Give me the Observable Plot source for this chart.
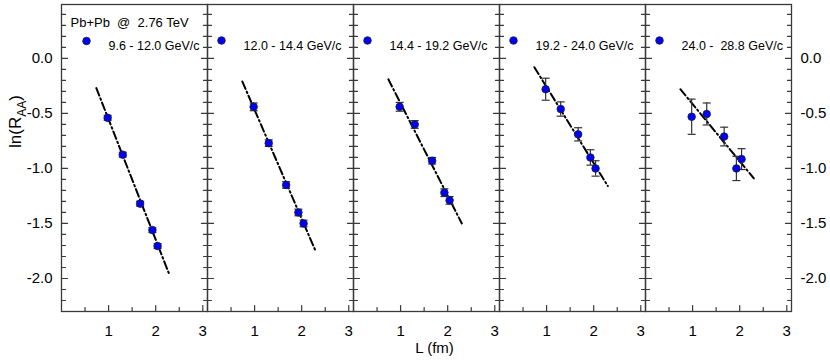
<!DOCTYPE html>
<html><head><meta charset="utf-8">
<script src="https://cdn.jsdelivr.net/npm/d3@7"></script>
<script src="https://cdn.jsdelivr.net/npm/@observablehq/plot@0.6"></script>
<style>
body{margin:0;background:#fff;}
#chart svg{display:block;}
</style></head><body><div id="chart"></div>
<script>
// ---- data ----
const bins = ["9.6 - 12.0 GeV/c", "12.0 - 14.4 GeV/c", "14.4 - 19.2 GeV/c", "19.2 - 24.0 GeV/c", "24.0 -  28.8 GeV/c"];
const pathLength = [0.98, 1.30, 1.67, 1.93, 2.04];
const lnRAA = [
  [-0.54, -0.875, -1.32, -1.56, -1.705],
  [-0.44, -0.77, -1.15, -1.40, -1.50],
  [-0.44, -0.60, -0.93, -1.22, -1.29],
  [-0.28, -0.46, -0.69, -0.90, -1.00],
  [-0.53, -0.505, -0.71, -1.00, -0.915]
];
const lnRAAErr = [
  [0.022, 0.022, 0.022, 0.022, 0.022],
  [0.035, 0.03, 0.03, 0.03, 0.03],
  [0.04, 0.035, 0.03, 0.035, 0.035],
  [0.10, 0.065, 0.06, 0.07, 0.07],
  [0.16, 0.10, 0.085, 0.11, 0.095]
];
const fitL = [0.74, 2.30];
const fitLnRAA = [
  [-0.27, -1.975],
  [-0.21, -1.755],
  [-0.19, -1.50],
  [-0.08, -1.16],
  [-0.28, -1.09]
];
const systemLabel = "Pb+Pb  @  2.76 TeV";
const xLabel = "L (fm)";
const yLabel = "ln(RAA)";
const xTicks = [1, 2, 3];
const xTickLabels = ["1", "2", "3"];
const xMinorTicks = [0.5, 1.5, 2.5];
const yTicks = [0, -0.5, -1, -1.5, -2];
const yTickLabels = ["0.0", "-0.5", "-1.0", "-1.5", "-2.0"];
const yMinorTicks = [0.4, 0.3, 0.2, 0.1, -0.1, -0.2, -0.3, -0.4, -0.6, -0.7, -0.8, -0.9, -1.1, -1.2, -1.3, -1.4, -1.6, -1.7, -1.8, -1.9, -2.1, -2.2];

// ---- tables built from the arrays ----
const points = bins.flatMap((bin, i) => pathLength.map((L, j) => ({bin, L, y: lnRAA[i][j], err: lnRAAErr[i][j]})));
const fits = bins.flatMap((bin, i) => fitL.map((L, j) => ({bin, L, y: fitLnRAA[i][j]})));

const lineShape = {draw(ctx, l) { ctx.moveTo(0, 0); ctx.lineTo(0, -l); }};
const capShape = {draw(ctx, size) { const w = Math.sqrt(size / Math.PI); ctx.moveTo(-w, 0); ctx.lineTo(w, 0); }};
const axisColor = "#3a3a3a";

function yTickMarks(values, len) {
  return [
    Plot.vector(values, {y: d => d, frameAnchor: "left", rotate: 90, anchor: "start", length: len, shape: lineShape, stroke: axisColor, strokeWidth: 1.2}),
    Plot.vector(values, {y: d => d, frameAnchor: "right", rotate: -90, anchor: "start", length: len, shape: lineShape, stroke: axisColor, strokeWidth: 1.2})
  ];
}
function xTickMarks(values, len) {
  return Plot.vector(values, {x: d => d, frameAnchor: "bottom", rotate: 0, anchor: "start", length: len, shape: lineShape, stroke: axisColor, strokeWidth: 1.2});
}
const xFmt = d => xTickLabels[xTicks.indexOf(d)];
const yFmt = d => yTickLabels[yTicks.indexOf(d)];

const chart = Plot.plot({
  width: 830,
  height: 364,
  marginLeft: 61,
  marginRight: 39,
  marginTop: 4,
  marginBottom: 53,
  style: {fontFamily: "'Liberation Sans', Arial, sans-serif", fontSize: "15px", color: "black", background: "white"},
  fx: {domain: bins, padding: 0, axis: null},
  x: {domain: [0, 3.1]},
  y: {domain: [-2.3, 0.49]},
  marks: [
    ...yTickMarks(yTicks, 6),
    ...yTickMarks(yMinorTicks, 4),
    xTickMarks(xTicks, 6),
    xTickMarks(xMinorTicks, 4),
    Plot.frame({stroke: axisColor, strokeWidth: 1.3}),
    Plot.axisX({ticks: xTicks, tickSize: 0, tickPadding: 14, tickFormat: xFmt, label: null, fontSize: 15}),
    Plot.axisY({anchor: "left", ticks: yTicks, tickSize: 0, tickPadding: 9, tickFormat: yFmt, label: null, fontSize: 15}),
    Plot.axisY({anchor: "right", ticks: yTicks, tickSize: 0, tickPadding: 9, tickFormat: yFmt, label: null, fontSize: 15}),
    Plot.line(fits, {fx: "bin", x: "L", y: "y", z: "bin", stroke: "black", strokeWidth: 2, strokeDasharray: "8,3,1.5,3"}),
    Plot.ruleX(points, {fx: "bin", x: "L", y1: d => d.y - d.err, y2: d => d.y + d.err, stroke: "#333", strokeWidth: 1.2}),
    Plot.dot(points, {fx: "bin", x: "L", y: d => d.y + d.err, symbol: capShape, r: 4, stroke: "#333", strokeWidth: 1.2}),
    Plot.dot(points, {fx: "bin", x: "L", y: d => d.y - d.err, symbol: capShape, r: 4, stroke: "#333", strokeWidth: 1.2}),
    Plot.dot(points, {fx: "bin", x: "L", y: "y", r: 3.8, fill: "#0000ff", stroke: "#202020", strokeWidth: 0.8}),
    // legend entries
    Plot.dot(bins.slice(0, 1), {fx: d => d, frameAnchor: "top-left", dx: 25, dy: 36.5, r: 3.8, fill: "#0000ff", stroke: "#202020", strokeWidth: 0.8}),
    Plot.dot(bins.slice(1), {fx: d => d, frameAnchor: "top-left", dx: 14, dy: 36, r: 3.8, fill: "#0000ff", stroke: "#202020", strokeWidth: 0.8}),
    Plot.text(bins.slice(0, 1), {fx: d => d, text: d => d, frameAnchor: "top-left", dx: 47, dy: 37, textAnchor: "start", fontSize: 12.5}),
    Plot.text(bins.slice(1), {fx: d => d, text: d => d, frameAnchor: "top-left", dx: 36, dy: 36.5, textAnchor: "start", fontSize: 12.5}),
    Plot.text(bins.slice(0, 1), {fx: d => d, text: () => systemLabel, frameAnchor: "top-left", dx: 9, dy: 13.5, textAnchor: "start", fontSize: 13}),
    // axis titles
    Plot.text(bins.slice(2, 3), {fx: d => d, text: () => xLabel, frameAnchor: "bottom", dx: 8, dy: 41, fontSize: 15}),
    Plot.text(bins.slice(0, 1), {fx: d => d, text: () => yLabel, frameAnchor: "left", dx: -46, dy: -10, rotate: -90, fontSize: 17})
  ]
});

// subscript for R_AA
d3.select(chart).selectAll("text").filter(function() { return this.textContent === yLabel; })
  .each(function() {
    const t = d3.select(this);
    t.text(null);
    t.append("tspan").text("ln(R");
    t.append("tspan").attr("dy", 5).attr("font-size", 12).text("AA");
    t.append("tspan").attr("dy", -5).text(")");
  });

document.getElementById("chart").append(chart);
</script>
</body></html>
